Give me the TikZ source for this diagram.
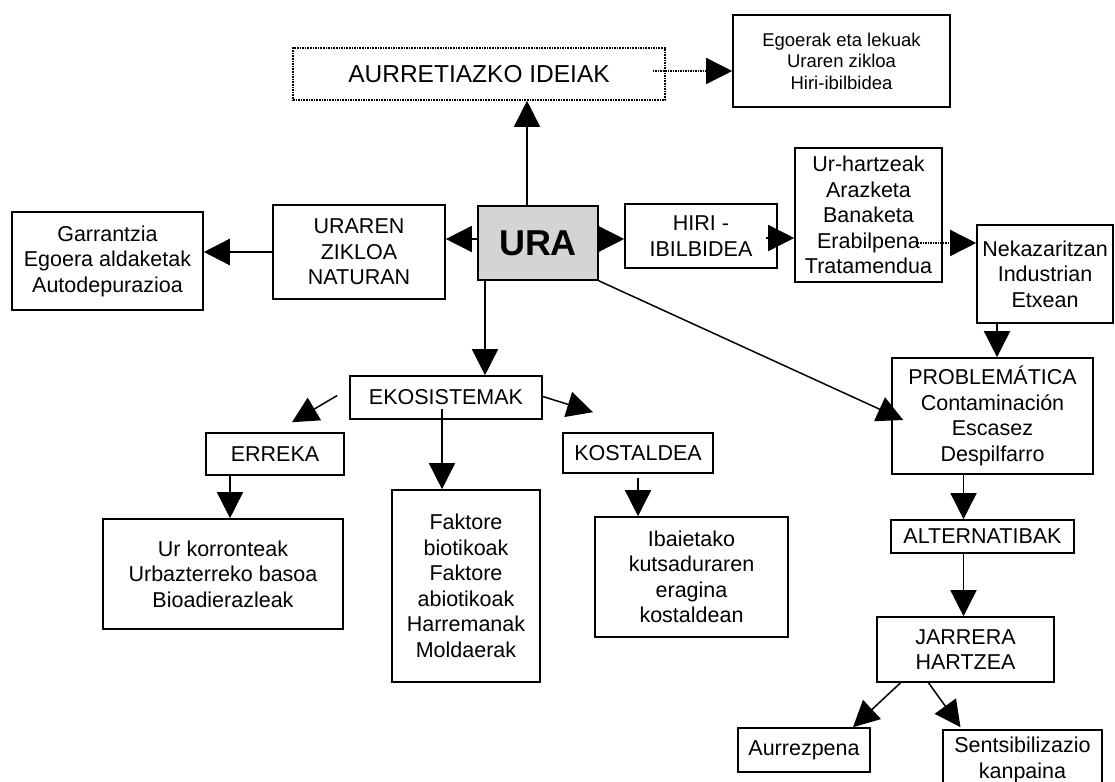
\documentclass[tikz,border=0pt]{standalone}
\usepackage{fontspec}
\setmainfont{Liberation Sans}
\usetikzlibrary{arrows.meta}

\begin{document}
\begin{tikzpicture}[x=1pt,y=-1pt,>={Triangle[length=26pt,width=26pt]},
    kutxa/.style={draw,line width=1.6pt,inner sep=0pt,align=center,
        font=\fontsize{21.5}{25.5}\selectfont},
    gezia/.style={->,line width=1.5pt}]
    \useasboundingbox (0,0) rectangle (1115,781);
    % goiko aldea
    \node[kutxa,densely dotted,minimum width=372,minimum height=52,font=\fontsize{24.5}{28}\selectfont] (ideiak) at (479,74) {AURRETIAZKO IDEIAK};
    \node[kutxa,minimum width=217,minimum height=92,font=\fontsize{18.5}{21.5}\selectfont] (egoerak) at (841.5,61) {Egoerak eta lekuak\\Uraren zikloa\\Hiri-ibilbidea};
    \node[kutxa,fill=black!17,minimum width=120,minimum height=74,font=\fontsize{36}{40}\selectfont\bfseries] (ura) at (538,243) {URA};
    \node[kutxa,minimum width=172,minimum height=94] (zikloa) at (359,252) {URAREN\\ZIKLOA\\NATURAN};
    \node[kutxa,minimum width=191,minimum height=98] (garrantzia) at (107.5,261) {Garrantzia\\Egoera aldaketak\\Autodepurazioa};
    \node[kutxa,minimum width=152,minimum height=64] (hiri) at (701,236) {HIRI -\\IBILBIDEA};
    \node[kutxa,minimum width=147,minimum height=134] (urhartz) at (868.5,215) {Ur-hartzeak\\Arazketa\\Banaketa\\Erabilpena\\Tratamendua};
    \node[kutxa,minimum width=136,minimum height=98] (nekaz) at (1045,274) {Nekazaritzan\\Industrian\\Etxean};
    % eskuineko zutabea
    \node[kutxa,minimum width=201,minimum height=116] (prob) at (992.5,416) {PROBLEMÁTICA\\Contaminación\\Escasez\\Despilfarro};
    \node[kutxa,minimum width=183,minimum height=33] (altern) at (982.5,536.5) {ALTERNATIBAK};
    \node[kutxa,minimum width=177,minimum height=65] (jarrera) at (965.5,649.5) {JARRERA\\HARTZEA};
    \node[kutxa,minimum width=132,minimum height=44] (aurrez) at (804,750) {Aurrezpena};
    \node[kutxa,minimum width=159,minimum height=60] (sents) at (1022.5,760) {Sentsibilizazio\\kanpaina};
    % ekosistemak
    \node[kutxa,minimum width=192,minimum height=43] (ekosis) at (446,397.5) {EKOSISTEMAK};
    \node[kutxa,minimum width=138,minimum height=42] (erreka) at (275,454) {ERREKA};
    \node[kutxa,minimum width=150,minimum height=40] (kostal) at (638,453) {KOSTALDEA};
    \node[kutxa,minimum width=148,minimum height=192] (faktore) at (466,586) {Faktore\\biotikoak\\Faktore\\abiotikoak\\Harremanak\\Moldaerak};
    \node[kutxa,minimum width=240,minimum height=110] (urkorr) at (223,574) {Ur korronteak\\Urbazterreko basoa\\Bioadierazleak};
    \node[kutxa,minimum width=193,minimum height=120] (ibai) at (691.5,577) {Ibaietako\\kutsaduraren\\eragina\\kostaldean};
    % geziak
    \draw[gezia] ([xshift=-11]ura.north) -- ([xshift=-11]ura.north |- ideiak.south);
    \draw[gezia,densely dotted] ([xshift=-13,yshift=3]ideiak.east) -- ([yshift=3]ideiak.east -| egoerak.west);
    \draw[gezia] ([yshift=4]ura.west) -- ([yshift=4]ura.west -| zikloa.east);
    \draw[gezia,line width=2.6pt] (zikloa.west) -- (zikloa.west -| garrantzia.east);
    \draw[gezia] ([yshift=4]ura.east) -- ([yshift=4]ura.east -| hiri.west);
    \draw[gezia] ([xshift=-12,yshift=-2]hiri.east) -- ([yshift=-2]hiri.east -| urhartz.west);
    \draw[gezia,densely dotted] ([xshift=-25,yshift=-28]urhartz.east) -- ([yshift=-28]urhartz.east -| nekaz.west);
    \draw[gezia] ([xshift=-48]nekaz.south) -- ([xshift=-48]nekaz.south |- prob.north);
    \draw[gezia] (ura.south east) -- ([xshift=12,yshift=-4]prob.west);
    \draw[gezia] ([xshift=-29]prob.south) -- ([xshift=-29]prob.south |- altern.north);
    \draw[gezia] ([xshift=-19]altern.south) -- ([xshift=-19]altern.south |- jarrera.north);
    \draw[gezia] ([xshift=-65]jarrera.south) -- ([xshift=49]aurrez.north);
    \draw[gezia] ([xshift=-37]jarrera.south) -- ([xshift=-62,yshift=2]sents.north);
    \draw[gezia] ([xshift=-53]ura.south) -- ([xshift=-53]ura.south |- ekosis.north);
    \draw[gezia] ([xshift=-12,yshift=2]ekosis.west) -- ([xshift=17,yshift=10]erreka.north);
    \draw[gezia] ([yshift=1]ekosis.east) -- ([xshift=-45,yshift=20]kostal.north);
    \draw[gezia] ([xshift=-4,yshift=11]ekosis.south) -- ([xshift=-4]ekosis.south |- faktore.north);
    \draw[gezia] ([xshift=-45]erreka.south) -- ([xshift=-45]erreka.south |- urkorr.north);
    \draw[gezia] ([yshift=-4]kostal.south) -- (kostal.south |- ibai.north);
\end{tikzpicture}
\end{document}
